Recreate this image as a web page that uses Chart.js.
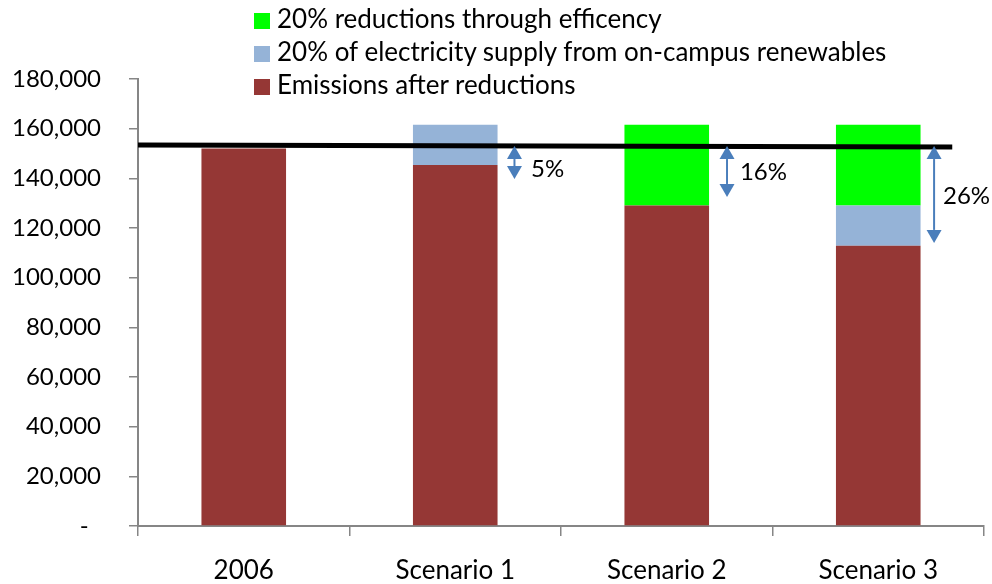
<!DOCTYPE html>
<html>
<head>
<meta charset="utf-8">
<title>Emissions scenarios</title>
<script src="https://cdn.jsdelivr.net/npm/chart.js@4/dist/chart.umd.min.js"></script>
<style>
    html, body { margin: 0; padding: 0; background: #fff; }
    #wrap { position: relative; width: 992px; height: 584px; }
    #legend { position: absolute; left: 254px; top: 2px; font: 26px Lato, sans-serif; color: #000; }
    #legend .item { height: 33px; line-height: 33px; white-space: nowrap; }
    #legend .box { display: inline-block; width: 16px; height: 16px; margin-right: 7px; vertical-align: -1px; }
</style>
</head>
<body>
<div id="wrap">
    <canvas id="chart" width="992" height="584"></canvas>
    <div id="legend"></div>
</div>
<script>
// Categories and series (tonnes CO2e)
var categories = ['2006', 'Scenario 1', 'Scenario 2', 'Scenario 3'];
var emissionsAfter = [152000, 145400, 129100, 112900];
var renewables = [0, 16200, 0, 16200];
var efficiency = [0, 0, 32500, 32500];

// 2006 baseline line (start / end values)
var baselineX = [-0.5, 3.35];
var baselineY = [153400, 152600];

// Reduction arrows for the scenarios
var arrowX = [1.28, 2.285, 3.264];
var arrowTop = [153000, 153000, 153000];
var arrowBottom = [139700, 132500, 114000];
var arrowLabels = ['5%', '16%', '26%'];
var arrowLabelX = [1.358, 2.346, 3.306];
var arrowLabelY = [143800, 142600, 132900];

var yTicks = [0, 20000, 40000, 60000, 80000, 100000, 120000, 140000, 160000, 180000];

var AXIS_GREY = '#868686';
var ARROW_BLUE = '#4a7ebb';

// Draws the double headed arrows and their labels
var arrowPlugin = {
    id: 'arrows',
    afterDatasetsDraw: function(chart) {
        var ctx = chart.ctx;
        var xs = chart.scales.xl;
        var ys = chart.scales.y;
        ctx.save();
        ctx.strokeStyle = ARROW_BLUE;
        ctx.fillStyle = ARROW_BLUE;
        ctx.lineWidth = 2;
        arrowX.forEach(function(v, i) {
            var x = xs.getPixelForValue(v);
            var top = ys.getPixelForValue(arrowTop[i]);
            var bottom = ys.getPixelForValue(arrowBottom[i]);
            var head = 13, half = 7.5;
            ctx.beginPath();
            ctx.moveTo(x, top + head);
            ctx.lineTo(x, bottom - head);
            ctx.stroke();
            ctx.beginPath();
            ctx.moveTo(x, top);
            ctx.lineTo(x - half, top + head);
            ctx.lineTo(x + half, top + head);
            ctx.closePath();
            ctx.fill();
            ctx.beginPath();
            ctx.moveTo(x, bottom);
            ctx.lineTo(x - half, bottom - head);
            ctx.lineTo(x + half, bottom - head);
            ctx.closePath();
            ctx.fill();
        });
        ctx.fillStyle = '#000';
        ctx.font = '24px Lato, sans-serif';
        ctx.textAlign = 'left';
        ctx.textBaseline = 'middle';
        arrowLabels.forEach(function(t, i) {
            ctx.fillText(t, xs.getPixelForValue(arrowLabelX[i]), ys.getPixelForValue(arrowLabelY[i]));
        });
        ctx.restore();
    }
};

function buildChart() {
    Chart.defaults.font.family = 'Lato, sans-serif';
    Chart.defaults.font.size = 24;
    Chart.defaults.color = '#000';

    var barDatasets = [
        { label: 'Emissions after reductions', data: emissionsAfter, backgroundColor: '#953735' },
        { label: '20% of electricity supply from on-campus renewables', data: renewables, backgroundColor: '#95b3d7' },
        { label: '20% reductions through efficency', data: efficiency, backgroundColor: '#00ff00' }
    ];
    barDatasets.forEach(function(d) {
        d.categoryPercentage = 1;
        d.barPercentage = 0.4;
        d.grouped = false;
        d.order = 1;
    });

    var baselineDataset = {
        type: 'line',
        label: 'baseline',
        xAxisID: 'xl',
        data: baselineX.map(function(x, i) { return { x: x, y: baselineY[i] }; }),
        borderColor: '#000',
        borderWidth: 5,
        pointRadius: 0,
        fill: false,
        order: 0
    };

    new Chart(document.getElementById('chart'), {
        type: 'bar',
        data: {
            labels: categories,
            datasets: barDatasets.concat([baselineDataset])
        },
        options: {
            responsive: false,
            animation: false,
            layout: { padding: { left: 0, top: 79, right: 8, bottom: 0 } },
            plugins: {
                legend: { display: false },
                tooltip: { enabled: false }
            },
            scales: {
                x: {
                    stacked: true,
                    grid: { drawOnChartArea: false, offset: true, tickLength: 10, color: AXIS_GREY, lineWidth: 1.5 },
                    border: { color: AXIS_GREY, width: 2 },
                    ticks: { padding: 19, maxRotation: 0, font: { size: 26 } },
                    afterFit: function(s) { s.height = 58; }
                },
                xl: {
                    type: 'linear',
                    display: false,
                    offset: false,
                    min: -0.5,
                    max: 3.5
                },
                y: {
                    stacked: true,
                    min: 0,
                    max: 180000,
                    grid: { drawOnChartArea: false, tickLength: 9, color: AXIS_GREY, lineWidth: 1.5 },
                    border: { color: AXIS_GREY, width: 2 },
                    afterBuildTicks: function(s) {
                        s.ticks = yTicks.map(function(v) { return { value: v }; });
                    },
                    ticks: {
                        padding: 28,
                        callback: function(v) {
                            return v === 0 ? '-  ' : v.toLocaleString('en-US');
                        }
                    },
                    afterFit: function(s) { s.width = 138; }
                }
            }
        },
        plugins: [arrowPlugin]
    });

    // Legend, listed top to bottom in reverse stack order
    var legend = document.getElementById('legend');
    barDatasets.slice().reverse().forEach(function(d) {
        var item = document.createElement('div');
        item.className = 'item';
        item.innerHTML = '<span class="box" style="background:' + d.backgroundColor + '"></span>' + d.label;
        legend.appendChild(item);
    });
}

if (document.fonts && document.fonts.load) {
    document.fonts.load('24px Lato').then(buildChart, buildChart);
} else {
    buildChart();
}
</script>
</body>
</html>
